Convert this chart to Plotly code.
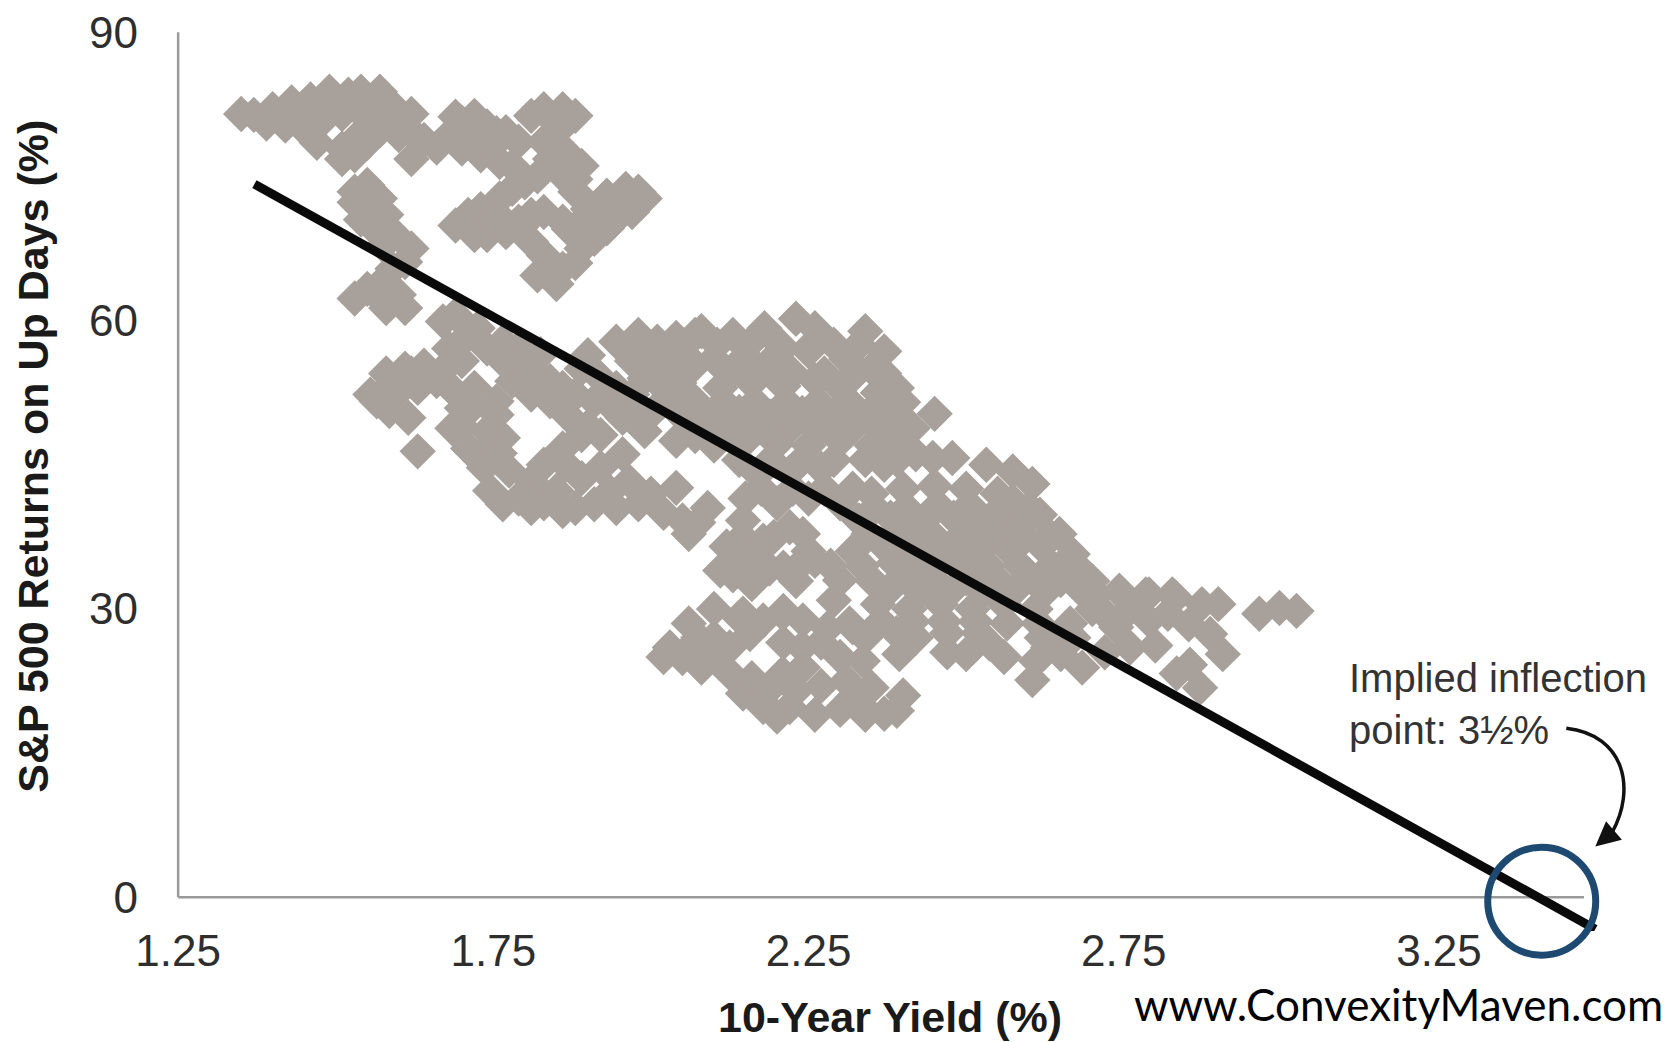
import plotly.graph_objects as go

# ---- data ----
# 10-year yield (%) and S&P 500 returns on up days (%) – one diamond per observation
yield_pct = [
    # top strip
    1.35, 1.37, 1.40, 1.43, 1.46, 1.49, 1.52, 1.54, 1.57,
    1.39, 1.42, 1.45, 1.48, 1.51, 1.55, 1.58, 1.60,
    1.47, 1.51, 1.51, 1.53, 1.55, 1.60, 1.62, 1.62, 1.64, 1.54, 1.57,
    1.44, 1.465, 1.505, 1.535, 1.565, 1.595, 1.62, 1.49,
    # upper middle
    1.68, 1.70, 1.72, 1.74, 1.77, 1.79, 1.70, 1.73, 1.76, 1.78, 1.71, 1.75, 1.66,
    1.69, 1.725, 1.755,
    # upper right
    1.81, 1.83, 1.86, 1.88, 1.85, 1.83, 1.87, 1.89, 1.86, 1.84, 1.88, 1.845, 1.865,
    1.93, 1.96, 1.98, 1.99, 1.97, 1.94, 1.91, 1.95,
    # middle blob
    1.69, 1.71, 1.73, 1.76, 1.78, 1.80, 1.82, 1.83, 1.81, 1.79, 1.77, 1.74, 1.72,
    1.81, 1.83, 1.82, 1.86, 1.89, 1.91, 1.93, 1.89, 1.86, 1.90, 1.88, 1.76, 1.88, 1.85,
    1.75, 1.795, 1.87, 1.905,
    # left arm
    1.53, 1.55, 1.57, 1.58, 1.55, 1.53, 1.56, 1.59, 1.62, 1.61, 1.54, 1.575,
    1.53, 1.55, 1.575, 1.60, 1.61, 1.58, 1.565, 1.59,
    # second band
    1.67, 1.69, 1.71, 1.74, 1.765, 1.79, 1.81, 1.84, 1.86, 1.84, 1.81, 1.78, 1.70, 1.68,
    1.66, 1.63, 1.60, 1.565, 1.555, 1.70, 1.755, 1.90, 1.89, 1.72, 1.77, 1.69, 1.64, 1.61, 1.58,
    1.725, 1.80, 1.825, 1.585, 1.62, 1.675,
    # left side of main cluster
    1.945, 1.98, 2.01, 2.04, 2.07, 1.97, 2.02, 2.07, 1.97, 2.02, 2.07, 1.945, 1.92, 1.99, 2.045, 1.995, 2.05,
    1.96, 2.00, 2.045, 1.945, 2.02, 1.965, 2.045,
    # main cluster
    2.08, 2.13, 2.18, 2.23, 2.26, 2.29, 2.34, 2.37, 2.39, 2.415, 2.42, 2.45,
    2.105, 2.155, 2.205, 2.255, 2.33,
    2.10, 2.15, 2.20, 2.25, 2.31, 2.35,
    2.125, 2.175, 2.225, 2.275, 2.325, 2.37,
    2.11, 2.16, 2.21, 2.26, 2.30, 2.36,
    2.115, 2.165, 2.215, 2.265, 2.315, 2.365, 2.40,
    2.09, 2.14, 2.19, 2.24, 2.29, 2.34, 2.38,
    2.115, 2.165, 2.215, 2.265, 2.315, 2.365, 2.40,
    2.10, 2.15, 2.20, 2.25, 2.30, 2.35, 2.39,
    2.14, 2.19, 2.24, 2.29, 2.34, 2.39,
    2.17, 2.22, 2.27, 2.37,
    2.175, 2.225, 2.275, 2.32,
    2.15, 2.20, 2.25, 2.30,
    # lower-left of main cluster
    1.86, 1.89, 1.85, 1.88, 1.91, 1.945, 1.98, 2.00, 1.92, 1.955, 1.965, 1.89, 1.92, 1.955, 1.99,
    2.05, 2.04, 2.09, 2.04, 2.07, 1.835, 1.88, 1.91, 1.87, 1.90, 2.06,
    1.865, 1.935, 2.02, 1.86, 1.81, 2.075,
    # left lower strip
    1.585, 1.615, 1.595, 1.63, 1.685, 1.71, 1.735, 1.745, 1.765, 1.715, 1.755, 1.765, 1.775,
    1.81, 1.83, 1.79, 1.83, 1.70, 1.74, 1.725, 1.76, 1.80,
    # band along the trend
    2.374, 2.447, 2.478, 2.532, 2.574, 2.605, 2.574, 2.617, 2.648, 2.669, 2.70, 2.743, 2.785, 2.827,
    2.35, 2.40, 2.45, 2.50, 2.55,
    2.355, 2.405, 2.455, 2.505, 2.555, 2.60,
    2.22, 2.33, 2.38, 2.43, 2.48, 2.53, 2.58,
    2.145, 2.195, 2.345, 2.395, 2.445, 2.495, 2.545, 2.595, 2.635,
    2.12, 2.17, 2.25, 2.32, 2.37, 2.42, 2.47, 2.52, 2.57, 2.62,
    2.145, 2.235, 2.285, 2.335, 2.385, 2.435, 2.485, 2.535, 2.585, 2.635, 2.675,
    2.13, 2.16, 2.21, 2.26, 2.30, 2.35, 2.40, 2.45, 2.50, 2.55, 2.60, 2.65,
    2.375, 2.425, 2.475, 2.525, 2.575, 2.625, 2.685,
    2.14, 2.21, 2.29, 2.32, 2.36, 2.41, 2.46, 2.51, 2.56, 2.61, 2.70,
    2.315, 2.365, 2.415, 2.465, 2.515, 2.565, 2.615, 2.665,
    2.34, 2.39, 2.42, 2.47, 2.52, 2.62, 2.67,
    2.336, 2.394, 2.50, 2.537, 2.605, 2.611, 2.684, 2.834, 2.871, 2.907, 2.887, 2.47, 2.63, 2.72, 2.76,
    2.56, 2.65, 2.80, 2.855,
    2.707, 2.748, 2.79, 2.832, 2.874, 2.90, 2.853, 2.79, 2.738, 2.72, 2.76, 2.82,
    2.965, 2.997, 3.024,
    2.125, 2.157, 2.188, 2.241, 2.178, 2.146, 2.23, 2.11,
    # lower arm
    2.05, 2.08, 2.125, 2.157, 2.146, 2.178, 2.209, 2.241, 2.125, 2.146, 2.178, 2.22, 2.209, 2.241,
    2.26, 2.30, 2.34, 2.37, 2.39, 2.336, 2.27, 2.31, 2.35, 2.30, 2.27, 2.21, 2.10, 2.03, 2.06, 2.10, 2.02,
    2.075, 2.10, 2.16, 2.19, 2.23, 2.28, 2.24, 2.20, 2.32, 2.40, 2.07,
]
up_day_returns = [
    # top strip
    81.5, 81.4, 82.0, 82.7, 83.0, 83.8, 83.5, 83.8, 83.8,
    80.5, 80.3, 79.9, 80.9, 81.5, 81.0, 81.2, 80.5,
    78.5, 77.9, 76.8, 77.2, 78.5, 79.3, 79.6, 76.8, 78.8, 79.5, 79.8,
    81.3, 81.5, 82.2, 82.3, 82.4, 82.0, 81.5, 82.3,
    # upper middle
    79.3, 80.6, 81.3, 80.2, 79.6, 78.6, 77.9, 77.2, 76.5, 76.1, 79.0, 78.3, 78.0,
    81.2, 79.8, 79.5,
    # upper right
    81.3, 82.0, 82.0, 81.3, 79.6, 78.6, 77.2, 76.1, 75.1, 76.8, 74.7, 80.8, 80.6,
    73.0, 73.7, 73.4, 72.7, 71.3, 70.3, 71.0, 72.0,
    # middle blob
    69.9, 71.0, 71.6, 72.7, 73.7, 74.4, 75.0, 71.3, 71.0, 70.3, 69.2, 68.9, 68.9,
    68.2, 66.8, 64.7, 65.4, 67.5, 68.5, 69.6, 70.3, 70.3, 71.6, 73.4, 70.8, 66.0, 63.8,
    70.2, 69.8, 69.5, 70.0,
    # left arm
    73.4, 74.1, 72.7, 71.0, 71.0, 72.3, 69.6, 69.2, 67.5, 66.1, 70.5, 67.8,
    62.3, 63.3, 64.1, 62.7, 61.3, 61.3, 62.7, 65.4,
    # second band
    59.9, 60.6, 58.5, 57.1, 57.8, 57.1, 55.0, 53.7, 53.0, 51.6, 52.3, 53.7, 55.8, 57.1,
    53.7, 53.0, 53.0, 51.6, 52.3, 50.9, 51.6, 56.4, 55.0, 53.0, 55.5, 52.5, 55.3, 55.0, 54.5,
    59.2, 56.0, 56.5, 53.2, 54.5, 55.2,
    # left side of main cluster
    57.8, 58.5, 57.8, 58.2, 58.5, 55.8, 55.4, 55.4, 52.3, 51.6, 51.6, 50.6, 54.0, 54.0, 53.5, 50.0, 50.0,
    57.0, 56.8, 56.8, 53.0, 53.0, 51.0, 51.0,
    # main cluster
    58.9, 58.5, 59.2, 60.2, 59.2, 57.5, 58.9, 56.8, 53.0, 48.8, 46.1, 50.3,
    57.5, 57.5, 57.5, 57.5, 57.5,
    56.0, 56.3, 56.5, 56.8, 56.0, 55.0,
    54.5, 54.5, 54.5, 54.5, 54.5, 54.5,
    53.0, 53.5, 53.2, 53.8, 53.0, 52.5,
    51.5, 51.5, 51.5, 51.5, 51.5, 51.5, 51.5,
    50.0, 50.5, 50.0, 50.4, 50.2, 50.0, 50.5,
    48.5, 48.5, 48.5, 48.5, 48.5, 48.5, 48.5,
    47.0, 47.5, 47.2, 47.0, 47.5, 47.0, 47.5,
    45.5, 45.5, 45.5, 45.5, 45.5, 45.5,
    44.0, 44.2, 44.6, 45.0,
    42.5, 42.5, 42.5, 42.5,
    41.5, 41.0, 41.5, 41.0,
    # lower-left of main cluster
    46.7, 48.1, 42.3, 40.5, 40.9, 40.5, 40.9, 42.0, 44.7, 46.1, 43.3, 43.6, 48.1, 49.9, 48.5,
    39.2, 42.6, 40.5, 47.5, 48.0, 52.7, 52.3, 51.6, 50.0, 49.0, 37.8,
    45.0, 42.2, 40.0, 40.2, 40.5, 39.0,
    # left lower strip
    50.6, 49.9, 52.3, 46.4, 48.8, 46.7, 44.7, 42.3, 40.9, 50.9, 50.2, 47.8, 44.4,
    43.3, 45.0, 41.5, 41.0, 49.0, 48.5, 45.8, 46.2, 42.0,
    # band along the trend
    45.7, 45.7, 45.7, 45.0, 44.3, 43.0, 41.2, 39.8, 37.8, 35.7, 32.9, 31.9, 31.5, 31.5,
    42.0, 42.5, 42.8, 42.5, 42.0,
    40.5, 40.5, 40.8, 40.8, 40.5, 40.5,
    38.5, 39.2, 39.5, 39.0, 39.5, 39.0, 38.5,
    37.5, 37.5, 37.8, 37.8, 37.8, 37.8, 37.5, 37.5, 37.5,
    36.5, 36.0, 36.0, 36.0, 36.5, 36.0, 36.2, 36.0, 36.0, 36.5,
    34.5, 34.5, 34.5, 34.5, 34.8, 34.8, 34.8, 34.5, 34.5, 34.5, 34.5,
    33.5, 32.6, 34.3, 35.0, 33.0, 33.0, 33.5, 33.0, 33.2, 33.0, 33.5, 33.0,
    31.8, 31.8, 31.8, 31.8, 31.8, 31.8, 31.8,
    29.1, 29.8, 30.9, 28.1, 30.5, 30.0, 30.5, 30.0, 30.5, 30.0, 30.0,
    28.5, 28.7, 28.7, 28.7, 28.7, 28.5, 28.5, 28.5,
    27.0, 27.5, 27.0, 27.5, 27.5, 27.0, 27.0,
    24.6, 25.3, 25.3, 26.4, 22.6, 24.6, 23.9, 23.3, 21.8, 25.3, 27.4, 25.5, 26.0, 25.5, 26.0,
    25.0, 25.3, 26.2, 24.2,
    31.5, 31.5, 31.5, 31.2, 30.5, 30.5, 28.4, 28.8, 28.1, 29.5, 30.0, 29.5,
    29.5, 30.1, 29.8,
    34.7, 32.9, 34.2, 37.8, 37.1, 39.2, 32.9, 34.0,
    # lower arm
    24.9, 23.9, 26.0, 27.4, 29.5, 28.8, 29.5, 28.8, 23.3, 21.2, 19.8, 19.8, 23.3, 23.9,
    19.0, 19.5, 19.0, 19.1, 19.4, 19.8, 22.0, 22.5, 21.8, 25.0, 26.5, 26.5, 27.0, 26.0, 28.5, 30.0, 25.0,
    27.0, 25.2, 22.8, 21.8, 21.5, 28.0, 26.0, 18.8, 20.8, 21.0, 26.5,
]

# trend line end points
trend_x = [1.371, 3.498]
trend_y = [74.2, -3.3]

# implied inflection point (circled)
inflection_x = [3.413]
inflection_y = [-0.4]

x_ticks = [1.25, 1.75, 2.25, 2.75, 3.25]
x_tick_labels = ["1.25", "1.75", "2.25", "2.75", "3.25"]
y_ticks = [0, 30, 60, 90]
y_tick_labels = ["0", "30", "60", "90"]

assert len(yield_pct) == len(up_day_returns)

TICK_FONT = dict(family="Liberation Sans, Arial, sans-serif", size=44, color="#2e2e2e")
TITLE_FONT = dict(family="Liberation Sans, Arial, sans-serif", size=43, color="#1a1a1a", weight="bold")
AXIS_COLOR = "#9a9a9a"

fig = go.Figure()

fig.add_trace(go.Scatter(
    x=yield_pct, y=up_day_returns, mode="markers",
    marker=dict(symbol="diamond", size=28, color="rgb(168,160,154)", line=dict(width=0)),
    hoverinfo="x+y", showlegend=False,
))

fig.add_trace(go.Scatter(
    x=trend_x, y=trend_y, mode="lines",
    line=dict(color="#0a0a0a", width=9),
    hoverinfo="skip", showlegend=False,
))

fig.add_trace(go.Scatter(
    x=inflection_x, y=inflection_y, mode="markers",
    marker=dict(symbol="circle-open", size=108, color="rgb(30,74,114)",
                line=dict(width=7, color="rgb(30,74,114)")),
    cliponaxis=False, hoverinfo="skip", showlegend=False,
))

# axis lines (y-axis from 0 to 90, x-axis along zero)
fig.add_shape(type="line", xref="x", yref="y", x0=1.25, x1=1.25, y0=0, y1=90,
              line=dict(color=AXIS_COLOR, width=2.5), layer="below")
fig.add_shape(type="line", xref="x", yref="y", x0=1.25, x1=3.48, y0=0, y1=0,
              line=dict(color=AXIS_COLOR, width=2.5), layer="below")

# curved arrow from the note to the circle
fig.add_shape(type="path", xref="x", yref="y",
              path="M 3.452,17.6 C 3.546,16.9 3.562,11.2 3.525,6.8",
              line=dict(color="#111111", width=3.5), layer="above")
fig.add_annotation(x=3.498, y=5.3, xref="x", yref="y", text="",
                   showarrow=True, arrowhead=2, arrowsize=1.4, arrowwidth=3.5,
                   arrowcolor="#111111", ax=20, ay=-17)

fig.add_annotation(x=3.1045, y=20.1, xref="x", yref="y",
                   text="Implied inflection<br>point: 3½%", showarrow=False,
                   xanchor="left", yanchor="middle", align="left",
                   font=dict(family="Liberation Sans, Arial, sans-serif", size=40, color="#333333"))

# axis titles
fig.add_annotation(x=0.4857, y=-0.0935, xref="paper", yref="paper",
                   text="10-Year Yield (%)", showarrow=False,
                   xanchor="center", yanchor="middle", font=TITLE_FONT)
fig.add_annotation(x=-0.0961, y=0.5172, xref="paper", yref="paper",
                   text="S&P 500 Returns on Up Days (%)", showarrow=False, textangle=-90,
                   xanchor="center", yanchor="middle", font=TITLE_FONT)

fig.add_annotation(x=1.0125, y=-0.0795, xref="paper", yref="paper",
                   text="www.ConvexityMaven.com", showarrow=False,
                   xanchor="right", yanchor="middle",
                   font=dict(family="Lato, sans-serif", size=44, color="#000000"))

fig.update_xaxes(
    range=[1.245, 3.58], tickmode="array", tickvals=x_ticks, ticktext=x_tick_labels,
    showgrid=False, zeroline=False, showline=False, ticks="",
    tickfont=TICK_FONT, ticklabelstandoff=-10, ticklabeloverflow="allow",
)
fig.update_yaxes(
    range=[-3.5, 92], tickmode="array", tickvals=y_ticks, ticktext=y_tick_labels,
    showgrid=False, zeroline=False, showline=False, ticks="",
    tickfont=TICK_FONT, ticklabelstandoff=36, ticklabeloverflow="allow",
)

# page body adds an 8 px offset, so the figure is drawn 8 px smaller and shifted
fig.update_layout(
    width=1663, height=1034,
    margin=dict(l=167, r=24, t=5, b=111, autoexpand=False),
    paper_bgcolor="white", plot_bgcolor="white",
    showlegend=False,
)

fig.write_html("out.html")
